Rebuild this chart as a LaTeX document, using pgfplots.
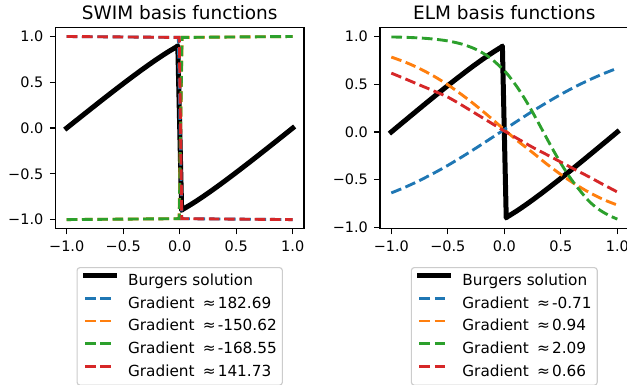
\documentclass[border=0pt]{standalone}
\usepackage{pgfplots}
\usepackage{pgfplotstable}
\pgfplotsset{compat=1.18}
\usepackage{fontspec}
\setmainfont{DejaVu Sans}
\definecolor{tabblue}{HTML}{1F77B4}
\definecolor{taborange}{HTML}{FF7F0E}
\definecolor{tabgreen}{HTML}{2CA02C}
\definecolor{tabred}{HTML}{D62728}
\definecolor{legframe}{HTML}{CCCCCC}

\pgfplotstableread{
x y
-1 0
-0.9216 0.0772
-0.8436 0.1537
-0.7663 0.2294
-0.690 0.3037
-0.6148 0.3762
-0.541 0.4463
-0.4697 0.5136
-0.400 0.5778
-0.3334 0.6384
-0.269 0.6951
-0.2079 0.7475
-0.150 0.7952
-0.0952 0.8381
-0.044 0.8758
-0.0247 0.8894
-0.017 0.900
0.017 -0.900
0.0247 -0.8894
0.044 -0.8758
0.0952 -0.8381
0.150 -0.7952
0.2079 -0.7475
0.269 -0.6951
0.3334 -0.6384
0.400 -0.5778
0.4697 -0.5136
0.541 -0.4463
0.6148 -0.3762
0.690 -0.3037
0.7663 -0.2294
0.8436 -0.1537
0.9216 -0.0772
1 0
}\burgers

\pgfplotsset{
  basestyle/.style={
    anchor=south west, width=179.0pt, height=145.0pt, scale only axis,
    xmin=-1.1, xmax=1.1,
    xtick={-1,-0.5,0,0.5,1}, xticklabels={−1.0,−0.5,0.0,0.5,1.0},
    ytick={-1,-0.5,0,0.5,1}, yticklabels={−1.0,−0.5,0.0,0.5,1.0},
    tick align=outside, major tick length=4pt,
    tick style={line width=0.8pt, black},
    xtick pos=lower, ytick pos=left,
    axis line style={line width=0.8pt},
    ticklabel style={font=\fontsize{10.4}{12}\selectfont},
    yticklabel style={xshift=-1.2pt},
    xticklabel style={yshift=-0.8pt},
    every axis title shift=0pt,
    title style={at={(0.5,1)}, anchor=base, yshift=5.3pt, font=\fontsize{13.3}{16}\selectfont},
    legend cell align=left,
    legend style={at={(0.5,0)}, anchor=north, yshift=-27.6pt,
      draw=legframe, line width=0.8pt, rounded corners=2pt, fill=white,
      inner xsep=4pt, inner ysep=4pt, row sep=5.32pt, column sep=8pt,
      font=\fontsize{11}{13}\selectfont,
      nodes={inner sep=0pt, text height=8.5pt, text depth=2.5pt}},
    legend image code/.code={\draw[#1] (0pt,4pt) -- (21.1pt,4pt);},
  },
  burg/.style={black, line width=3.6pt, line cap=rect, line join=round, rounded corners=0pt},
  dsh/.style={line width=2.08pt, dash pattern=on 7.7pt off 3.3pt, line cap=butt, rounded corners=0pt},
}

\begin{document}
\begin{tikzpicture}
\useasboundingbox (0,0) rectangle (451.44pt,277.2pt);
\begin{axis}[basestyle, at={(39.9pt,112.5pt)}, ymin=-1.1, ymax=1.1,
  title={SWIM basis functions}]
\addplot[burg] table[x=x,y=y] {\burgers};
\addlegendentry{Burgers solution}
\addplot[dsh, tabblue] coordinates {(-1,1) (-0.012,0.99) (0.018,-0.99) (1,-1)};
\addlegendentry{Gradient\hspace{6pt}≈\hspace{1.5pt}182.69}
\addplot[dsh, taborange] coordinates {(-1,-1) (-0.006,-0.99) (0.022,0.99) (1,1)};
\addlegendentry{Gradient\hspace{6pt}≈\hspace{1.5pt}-150.62}
\addplot[dsh, tabgreen] coordinates {(-1,-1) (-0.004,-0.99) (0.02,0.99) (1,1)};
\addlegendentry{Gradient\hspace{6pt}≈\hspace{1.5pt}-168.55}
\addplot[dsh, tabred] coordinates {(-1,1) (-0.004,0.99) (0.018,-0.99) (1,-1)};
\addlegendentry{Gradient\hspace{6pt}≈\hspace{1.5pt}141.73}
\end{axis}
\begin{axis}[basestyle, at={(273.6pt,112.5pt)}, ymin=-1.013, ymax=1.095,
  title={ELM basis functions}]
\addplot[burg] table[x=x,y=y] {\burgers};
\addlegendentry{Burgers solution}
\addplot[dsh, tabblue, smooth] coordinates {(-1,-0.638) (-0.875,-0.577) (-0.75,-0.508) (-0.625,-0.432) (-0.5,-0.350) (-0.375,-0.261) (-0.25,-0.168) (-0.125,-0.072) (0,0.025) (0.125,0.122) (0.25,0.217) (0.375,0.307) (0.5,0.393) (0.625,0.472) (0.75,0.544) (0.875,0.609) (1,0.667)};
\addlegendentry{Gradient\hspace{6pt}≈\hspace{1.5pt}-0.71}
\addplot[dsh, taborange, smooth] coordinates {(-1,0.784) (-0.875,0.730) (-0.75,0.664) (-0.625,0.585) (-0.5,0.494) (-0.375,0.389) (-0.25,0.275) (-0.125,0.152) (0,0.024) (0.125,-0.100) (0.25,-0.215) (0.375,-0.335) (0.5,-0.445) (0.625,-0.545) (0.75,-0.632) (0.875,-0.706) (1,-0.765)};
\addlegendentry{Gradient\hspace{6pt}≈\hspace{1.5pt}0.94}
\addplot[dsh, tabgreen, smooth] coordinates {(-1,0.9946) (-0.875,0.9907) (-0.75,0.9839) (-0.625,0.9724) (-0.5,0.9528) (-0.375,0.9195) (-0.25,0.8643) (-0.125,0.7757) (0,0.6411) (0.0625,0.5528) (0.125,0.4502) (0.1875,0.3342) (0.25,0.2070) (0.3125,0.0724) (0.375,-0.0649) (0.4375,-0.1998) (0.5,-0.3275) (0.5625,-0.4443) (0.625,-0.5477) (0.6875,-0.640) (0.75,-0.725) (0.8125,-0.790) (0.875,-0.840) (0.9375,-0.880) (1,-0.912)};
\addlegendentry{Gradient\hspace{6pt}≈\hspace{1.5pt}2.09}
\addplot[dsh, tabred, smooth] coordinates {(-1,0.616) (-0.875,0.555) (-0.75,0.492) (-0.625,0.430) (-0.5,0.365) (-0.375,0.280) (-0.25,0.190) (-0.125,0.100) (0,0.010) (0.125,-0.075) (0.25,-0.160) (0.375,-0.237) (0.5,-0.315) (0.625,-0.393) (0.75,-0.470) (0.875,-0.550) (1,-0.628)};
\addlegendentry{Gradient\hspace{6pt}≈\hspace{1.5pt}0.66}
\end{axis}
\end{tikzpicture}
\end{document}
